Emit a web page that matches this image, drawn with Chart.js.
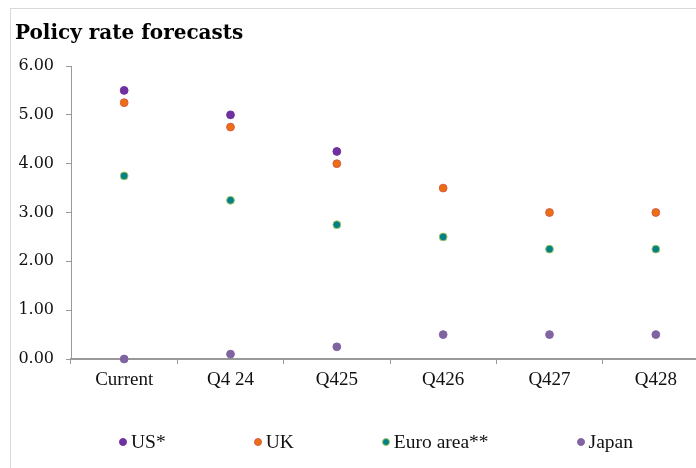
<!DOCTYPE html>
<html>
<head>
<meta charset="utf-8">
<script src="https://cdn.jsdelivr.net/npm/chart.js@4.4.1/dist/chart.umd.min.js"></script>
<style>
  html, body { margin: 0; padding: 0; width: 696px; height: 468px; overflow: hidden; background: #fff; }
  #frame { position: absolute; left: 10px; top: 8px; width: 730px; height: 470px;
           border-left: 1px solid #d9d9d9; border-top: 1px solid #d9d9d9; }
  #chart { position: absolute; left: 0; top: 0; }
  #legend { position: absolute; left: 108px; top: 422px; margin: 0; padding: 0; list-style: none;
            display: flex; align-items: center; gap: 88px;
            font: 19.5px "Liberation Serif", serif; color: #111; line-height: 22px; }
  #legend li { display: flex; align-items: center; white-space: nowrap; }
  #legend .dot { width: 8px; height: 8px; border-radius: 50%; box-sizing: border-box; margin-right: 4px; }
</style>
</head>
<body>
<div id="frame">
  <canvas id="chart" width="720" height="459"></canvas>
  <ul id="legend"></ul>
</div>
<script>
// Policy rates (%), current level and end-of-Q4 forecasts
const categories = ['Current', 'Q4 24', 'Q425', 'Q426', 'Q427', 'Q428'];
const usRates    = [5.50, 5.00, 4.25, null, null, null];
const ukRates    = [5.25, 4.75, 4.00, 3.50, 3.00, 3.00];
const euroRates  = [3.75, 3.25, 2.75, 2.50, 2.25, 2.25];
const japanRates = [0.00, 0.10, 0.25, 0.50, 0.50, 0.50];
const yTickLabels = ['0.00', '1.00', '2.00', '3.00', '4.00', '5.00', '6.00'];

const seriesNames = ['US*', 'UK', 'Euro area**', 'Japan'];
const fills   = ['#7030a0', '#eb6f0e', '#00808a', '#8064a2'];
const borders = ['#7030a0', '#d9594c', '#a5c75a', '#8064a2'];

function series(i, data) {
  return {
    label: seriesNames[i],
    data: data,
    showLine: false,
    backgroundColor: fills[i],
    borderColor: borders[i],
    pointBackgroundColor: fills[i],
    pointBorderColor: borders[i],
    pointBorderWidth: 1,
    pointRadius: 3.9,
    pointHoverRadius: 3.9,
    clip: false
  };
}

// Legend rendered as HTML from the chart's own legend items
const htmlLegend = {
  id: 'htmlLegend',
  afterUpdate(chart) {
    const ul = document.getElementById('legend');
    ul.innerHTML = '';
    const items = chart.options.plugins.legend.labels.generateLabels(chart);
    items.forEach(item => {
      const li = document.createElement('li');
      const dot = document.createElement('span');
      dot.className = 'dot';
      dot.style.background = item.fillStyle;
      dot.style.border = '1px solid ' + item.strokeStyle;
      const txt = document.createElement('span');
      txt.textContent = item.text;
      li.appendChild(dot);
      li.appendChild(txt);
      ul.appendChild(li);
    });
  }
};

const axisGrey = '#999999';

new Chart(document.getElementById('chart'), {
  type: 'line',
  data: {
    labels: categories,
    datasets: [
      series(0, usRates),
      series(1, ukRates),
      series(2, euroRates),
      series(3, japanRates)
    ]
  },
  plugins: [htmlLegend],
  options: {
    responsive: false,
    animation: false,
    devicePixelRatio: 1,
    layout: { padding: { left: 4, right: 22, top: 0, bottom: 69 } },
    plugins: {
      legend: { display: false },
      tooltip: { enabled: false },
      title: {
        display: true,
        text: 'Policy rate forecasts',
        align: 'start',
        color: '#000',
        font: { family: 'DejaVu Serif', size: 20, weight: 'bold', lineHeight: 1.2 },
        padding: { top: 13, bottom: 20 }
      }
    },
    scales: {
      x: {
        type: 'category',
        offset: true,
        grid: { offset: true, drawOnChartArea: false, drawTicks: true, tickLength: 5, color: axisGrey, lineWidth: 1 },
        border: { color: axisGrey, width: 2 },
        ticks: { color: '#111', font: { family: 'Liberation Serif', size: 19 }, padding: 5, maxRotation: 0, autoSkip: false },
        afterFit(scale) { scale.height = 40; }
      },
      y: {
        min: 0,
        max: 6,
        grid: { drawOnChartArea: false, drawTicks: true, tickLength: 5, color: axisGrey, lineWidth: 1 },
        border: { color: axisGrey, width: 1 },
        ticks: {
          stepSize: 1,
          padding: 12,
          color: '#111',
          font: { family: 'DejaVu Serif', size: 16 },
          callback: (value, index) => yTickLabels[index]
        },
        afterFit(scale) { scale.width = 56; }
      }
    }
  }
});
</script>
</body>
</html>
